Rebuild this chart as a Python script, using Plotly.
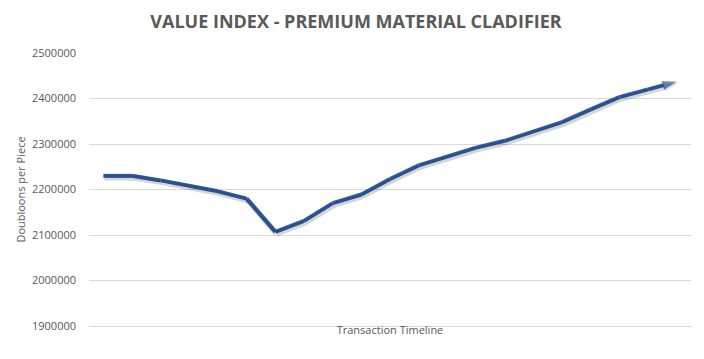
import plotly.graph_objects as go

periods = list(range(1, 22))
values = [2230000, 2230000, 2220000, 2209000, 2196000, 2180000, 2107000,
          2131000, 2170000, 2189000, 2223000, 2253000, 2273000, 2292000,
          2307000, 2328000, 2348000, 2376000, 2403000, 2420000, 2437000]
y_ticks = [1900000, 2000000, 2100000, 2200000, 2300000, 2400000, 2500000]

title_text = "VALUE INDEX - PREMIUM MATERIAL CLADIFIER"
y_title = "Doubloons per Piece"
x_title = "Transaction Timeline"

line_color = "#3360A9"
text_color = "#595959"
grid_color = "#D9D9D9"
font_family = "Open Sans, Lato, sans-serif"

y_range = [1900000, 2500000]
x_range = [0.5, 21.5]
# shadow axes: same scale, shifted a couple of pixels down/right
shadow_dy = 3800
shadow_dx = 0.04

fig = go.Figure()
sizes = [0] * (len(values) - 1) + [15]
fig.add_trace(go.Scatter(
    x=periods, y=values, mode="lines+markers", xaxis="x2", yaxis="y2",
    line=dict(color="rgba(0,0,0,0.16)", width=6),
    marker=dict(symbol="arrow", size=sizes, color="rgba(0,0,0,0.16)",
                angleref="previous", line=dict(width=0)),
    hoverinfo="skip", showlegend=False,
))
fig.add_trace(go.Scatter(
    x=periods, y=values, mode="lines+markers",
    line=dict(color=line_color, width=4),
    marker=dict(symbol="arrow", size=sizes, color=line_color,
                angleref="previous", line=dict(width=0)),
    showlegend=False,
))

# page has an 8px body margin, so the figure is sized/offset to compensate
fig.update_layout(
    width=696, height=351,
    margin=dict(l=81, r=13, t=45, b=33),
    paper_bgcolor="white", plot_bgcolor="white",
    font=dict(family=font_family, color=text_color, size=11),
    title=dict(text="<b>" + title_text + "</b>", x=0.5, xanchor="center",
               y=1 - 14 / 351, yanchor="middle",
               font=dict(size=18, color=text_color, family=font_family)),
    xaxis=dict(range=x_range, showticklabels=False, showgrid=False,
               zeroline=False, showline=True, linecolor=grid_color,
               linewidth=1, ticks="",
               title=dict(text=x_title, standoff=0,
                          font=dict(size=11, color=text_color))),
    yaxis=dict(range=y_range, tickvals=y_ticks,
               tickformat="d", showgrid=True, gridcolor=grid_color,
               gridwidth=1, zeroline=False, showline=False, ticks="",
               ticklabelstandoff=12,
               tickfont=dict(size=11, color=text_color),
               title=dict(text=y_title, standoff=4,
                          font=dict(size=11, color=text_color))),
    xaxis2=dict(range=[x_range[0] - shadow_dx, x_range[1] - shadow_dx],
                overlaying="x", visible=False),
    yaxis2=dict(range=[y_range[0] + shadow_dy, y_range[1] + shadow_dy],
                overlaying="y", visible=False),
)

fig.write_html("out.html")
